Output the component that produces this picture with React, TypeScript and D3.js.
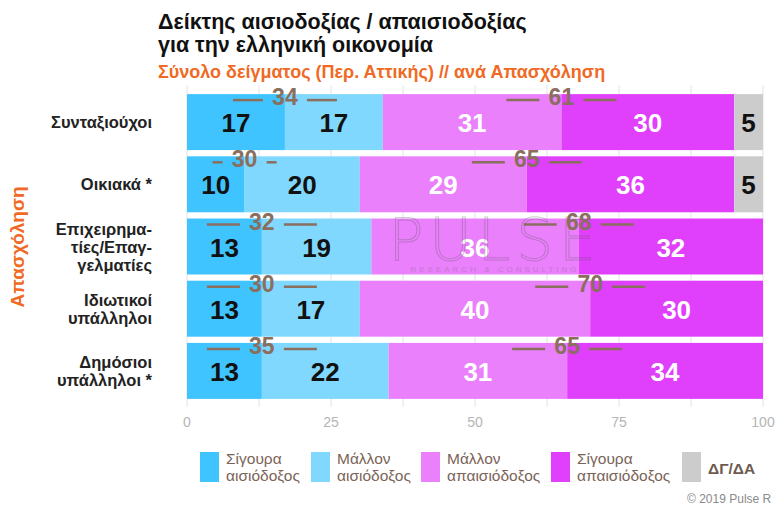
import React from 'react';
import { scaleLinear, scaleBand, stack, range } from 'd3';

// categories (y axis), line breaks with '|'
const categories = [
  'Συνταξιούχοι',
  'Οικιακά *',
  'Επιχειρημα-|τίες/Επαγ-|γελματίες',
  'Ιδιωτικοί|υπάλληλοι',
  'Δημόσιοι|υπάλληλοι *',
];

// series values
const sureOptimist = [17, 10, 13, 13, 13];
const ratherOptimist = [17, 20, 19, 17, 22];
const ratherPessimist = [31, 29, 36, 40, 31];
const surePessimist = [30, 36, 32, 30, 34];
const dontKnow = [5, 5, 0, 0, 0];

const seriesNames = [
  'Σίγουρα|αισιόδοξος',
  'Μάλλον|αισιόδοξος',
  'Μάλλον|απαισιόδοξος',
  'Σίγουρα|απαισιόδοξος',
  'ΔΓ/ΔΑ',
];
const colors = ['#40C4FF', '#80D8FF', '#EA80FC', '#E040FB', '#CCCCCC'];
const labelColors = ['#111', '#111', '#fff', '#fff', '#111'];

const xTicks = [0, 25, 50, 75, 100];
const optDash = [30, 10, 33, 33, 33];

const W = 776;
const H = 507;

const App = () => {
  const x = scaleLinear().domain([0, 100]).range([187, 763]);
  const y = scaleBand<string>()
    .domain(categories)
    .range([91, 402])
    .paddingInner(0.1)
    .paddingOuter(0.05);

  const rows = categories.map((c, i) => ({
    cat: c,
    s0: sureOptimist[i],
    s1: ratherOptimist[i],
    s2: ratherPessimist[i],
    s3: surePessimist[i],
    s4: dontKnow[i],
  }));
  const keys = ['s0', 's1', 's2', 's3', 's4'];
  const stacked = stack<any>().keys(keys)(rows);

  const bh = y.bandwidth();
  const brown = '#8A6E5E';

  return (
    <svg width={W} height={H} style={{ display: 'block', position: 'absolute', left: 0, top: 0, fontFamily: 'Liberation Sans, Arial, sans-serif' }}>
      {/* title */}
      <text x={158} y={29} fontSize={21.5} fontWeight="bold" fill="#111">Δείκτης αισιοδοξίας / απαισιοδοξίας</text>
      <text x={158} y={52} fontSize={21.5} fontWeight="bold" fill="#111">για την ελληνική οικονομία</text>
      <text x={158} y={78} fontSize={18} fontWeight="bold" fill="#F06A25">Σύνολο δείγματος (Περ. Αττικής) // ανά Απασχόληση</text>

      {/* grid */}
      {range(0, 100.01, 12.5).map((t) => (
        <line key={t} x1={x(t)} x2={x(t)} y1={85} y2={407} stroke="#E3E3E3" strokeWidth={1} />
      ))}
      {xTicks.map((t) => (
        <text key={t} x={x(t)} y={427} fontSize={14} fill="#B5B5B5" textAnchor="middle">{t}</text>
      ))}

      {/* bars */}
      {stacked.map((layer, si) => (
        <g key={si}>
          {layer.map((d, ri) => {
            const v = d[1] - d[0];
            if (!v) return null;
            const yy = y(categories[ri])!;
            return (
              <g key={ri}>
                <rect x={x(d[0])} y={yy} width={x(d[1]) - x(d[0])} height={bh} fill={colors[si]} />
                <text
                  x={(x(d[0]) + x(d[1])) / 2}
                  y={yy + bh / 2 + 10}
                  textAnchor="middle"
                  fontSize={26}
                  fontWeight="bold"
                  fill={labelColors[si]}
                >
                  {v}
                </text>
              </g>
            );
          })}
        </g>
      ))}

      {/* watermark */}
      <g opacity={0.3}>
        <text x={495} y={260} textAnchor="middle" fontSize={58} fontFamily="DejaVu Sans" fontWeight={200} letterSpacing={6} fill="none" stroke="#555" strokeWidth={1}>PULSE</text>
        <text x={495} y={272} textAnchor="middle" fontSize={8} letterSpacing={3} fill="#666">RESEARCH &amp; CONSULTING</text>
      </g>

      {/* total annotations */}
      {categories.map((c, i) => {
        const yy = y(c)!;
        const optT = sureOptimist[i] + ratherOptimist[i];
        const pesT = ratherPessimist[i] + surePessimist[i];
        const items = [
          { cx: x(sureOptimist[i]), v: optT, dash: optDash[i] },
          { cx: x(optT + ratherPessimist[i]), v: pesT, dash: 33 },
        ];
        return (
          <g key={c}>
            {items.map((it, k) => (
              <g key={k}>
                <line x1={it.cx - 22 - it.dash} x2={it.cx - 22} y1={yy + 6} y2={yy + 6} stroke={brown} strokeWidth={2.5} />
                <line x1={it.cx + 22} x2={it.cx + 22 + it.dash} y1={yy + 6} y2={yy + 6} stroke={brown} strokeWidth={2.5} />
                <text x={it.cx} y={yy + 11} textAnchor="middle" fontSize={23} fontWeight="bold" fill={brown}>{it.v}</text>
              </g>
            ))}
          </g>
        );
      })}

      {/* category labels */}
      {categories.map((c) => {
        const lines = c.split('|');
        const cy = y(c)! + bh / 2;
        const lh = 18;
        return (
          <text key={c} x={152} textAnchor="end" fontSize={16.5} fontWeight="bold" fill="#222">
            {lines.map((l, k) => (
              <tspan key={k} x={152} y={cy + 6 + (k - (lines.length - 1) / 2) * lh}>{l}</tspan>
            ))}
          </text>
        );
      })}

      {/* y axis title */}
      <text transform="translate(24,247) rotate(-90)" textAnchor="middle" fontSize={19} fontWeight="bold" fill="#F06A25">Απασχόληση</text>

      {/* legend */}
      {seriesNames.map((n, i) => {
        const lx = [200, 311, 421, 551, 682][i];
        const lines = n.split('|');
        return (
          <g key={n}>
            <rect x={lx} y={452} width={19} height={30} fill={colors[i]} />
            {lines.length > 1 ? (
              lines.map((l, k) => (
                <text key={k} x={lx + 26} y={464 + k * 17} fontSize={15.5} fill="#7A6458">{l}</text>
              ))
            ) : (
              <text x={lx + 26} y={474} fontSize={15.5} fontWeight="bold" fill="#6E5A50">{n}</text>
            )}
          </g>
        );
      })}

      <text x={687} y={503} fontSize={12} fill="#8a8a8a">© 2019 Pulse R</text>
    </svg>
  );
};

export default App;
